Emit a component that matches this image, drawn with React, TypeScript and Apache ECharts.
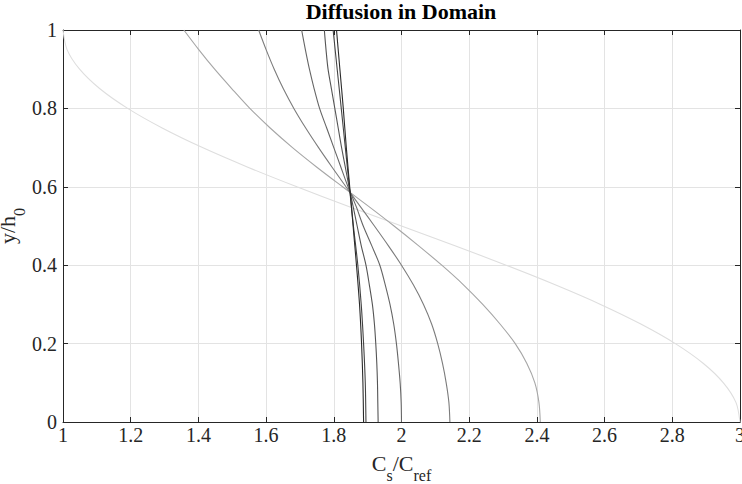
import React, { useEffect, useRef } from 'react';
import * as echarts from 'echarts';

// y/h0 sample positions
const yFine = [0, 0.05, 0.1, 0.15, 0.2, 0.25, 0.3, 0.35, 0.4, 0.45, 0.5, 0.55, 0.6, 0.65, 0.7, 0.75, 0.8, 0.85, 0.9, 0.95, 1];
const yCoarse = [0, 0.1, 0.2, 0.3, 0.4, 0.5, 0.6, 0.7, 0.8, 0.9, 1];

// Cs/Cref profiles, earliest (lightest) to latest (darkest)
const profile1 = [3.0, 2.988, 2.951, 2.891, 2.809, 2.707, 2.588, 2.454, 2.309, 2.156, 2.0, 1.844, 1.691, 1.546, 1.412, 1.293, 1.191, 1.109, 1.049, 1.012, 1.0];
const profile2 = [2.41, 2.406, 2.394, 2.37, 2.336, 2.291, 2.24, 2.183, 2.119, 2.05, 1.978, 1.903, 1.826, 1.75, 1.678, 1.612, 1.552, 1.499, 1.448, 1.401, 1.357];
const profile3 = [2.143, 2.14, 2.132, 2.121, 2.107, 2.089, 2.065, 2.035, 2.0, 1.961, 1.92, 1.878, 1.836, 1.795, 1.755, 1.717, 1.682, 1.651, 1.624, 1.6, 1.578];
const profile4 = [2.0, 1.999, 1.996, 1.991, 1.985, 1.977, 1.966, 1.952, 1.936, 1.912, 1.887, 1.866, 1.842, 1.821, 1.8, 1.779, 1.758, 1.742, 1.728, 1.716, 1.705];
const profile5 = [1.931, 1.93, 1.929, 1.927, 1.924, 1.92, 1.914, 1.905, 1.895, 1.881, 1.869, 1.857, 1.845, 1.834, 1.823, 1.813, 1.803, 1.793, 1.783, 1.777, 1.772];
const profile6 = [1.895, 1.893, 1.888, 1.881, 1.871, 1.858, 1.846, 1.834, 1.822, 1.81, 1.798];
const profile7 = [1.888, 1.886, 1.882, 1.876, 1.867, 1.857, 1.847, 1.837, 1.828, 1.818, 1.808];

const xTickLabels = ['1', '1.2', '1.4', '1.6', '1.8', '2', '2.2', '2.4', '2.6', '2.8', '3'];
const yTickLabels = ['0', '0.2', '0.4', '0.6', '0.8', '1'];

const profiles = [
  { xs: profile1, ys: yFine, color: '#dedede' },
  { xs: profile2, ys: yFine, color: '#a6a6a6' },
  { xs: profile3, ys: yFine, color: '#7c7c7c' },
  { xs: profile4, ys: yFine, color: '#666666' },
  { xs: profile5, ys: yFine, color: '#555555' },
  { xs: profile6, ys: yCoarse, color: '#444444' },
  { xs: profile7, ys: yCoarse, color: '#2a2a2a' },
];

const SERIF = 'Liberation Serif';
const AX = '#262626';

export default function App() {
  const ref = useRef<HTMLDivElement>(null);
  useEffect(() => {
    if (!ref.current) return;
    const chart = echarts.init(ref.current, undefined, { renderer: 'svg' });
    const axisCommon = {
      type: 'value' as const,
      axisLine: { show: true, onZero: false, lineStyle: { color: AX, width: 1 } },
      axisTick: { show: true, inside: true, length: 5, lineStyle: { color: AX } },
    };
    const xLabel = (v: number) => xTickLabels[Math.round((v - 1) / 0.2)] ?? '';
    const yLabel = (v: number) => yTickLabels[Math.round(v / 0.2)] ?? '';
    const rich = {
      a: { fontFamily: SERIF, fontSize: 22, color: AX, lineHeight: 22, verticalAlign: 'top' },
      b: { fontFamily: SERIF, fontSize: 16, color: AX, lineHeight: 16, verticalAlign: 'top', padding: [15, 0, 0, 0] },
    };
    const option = {
      animation: false,
      textStyle: { fontFamily: SERIF },
      title: {
        text: 'Diffusion in Domain',
        left: 401,
        top: 0,
        padding: 0,
        textAlign: 'center',
        textStyle: { fontFamily: SERIF, fontSize: 22, fontWeight: 'bold', color: '#000' },
      },
      grid: { left: 63, right: 2, top: 30, bottom: 62, containLabel: false, outerBoundsMode: 'none' },
      xAxis: [
        {
          ...axisCommon,
          min: 1, max: 3, interval: 0.2, position: 'bottom',
          axisLabel: { formatter: xLabel, fontFamily: SERIF, fontSize: 20, color: AX, margin: 3 },
          splitLine: { show: true, lineStyle: { color: '#e3e3e3', width: 1 } },
          name: '{a|C}{b|s}{a|/C}{b|ref}',
          nameLocation: 'middle',
          nameGap: 30,
          nameMoveOverlap: false,
          nameTextStyle: { fontFamily: SERIF, fontSize: 22, color: AX, rich },
        },
        {
          ...axisCommon,
          min: 1, max: 3, interval: 0.2, position: 'top',
          axisLabel: { show: false },
          splitLine: { show: false },
        },
      ],
      yAxis: [
        {
          ...axisCommon,
          min: 0, max: 1, interval: 0.2, position: 'left',
          axisLabel: { formatter: yLabel, fontFamily: SERIF, fontSize: 20, color: AX, margin: 6 },
          splitLine: { show: true, lineStyle: { color: '#e3e3e3', width: 1 } },
          name: '{a|y/h}{b|0}',
          nameLocation: 'middle',
          nameGap: 45,
          nameMoveOverlap: false,
          nameTextStyle: { fontFamily: SERIF, fontSize: 22, color: AX, rich },
        },
        {
          ...axisCommon,
          min: 0, max: 1, interval: 0.2, position: 'right',
          axisLabel: { show: false },
          splitLine: { show: false },
        },
      ],
      series: profiles.map((p, i) => ({
        type: 'line',
        name: 'profile' + (i + 1),
        xAxisIndex: 0,
        yAxisIndex: 0,
        data: p.xs.map((x, k) => [x, p.ys[k]]),
        showSymbol: false,
        smooth: 0.3,
        lineStyle: { color: p.color, width: 1.1 },
        itemStyle: { color: p.color },
        z: 2 + i,
      })),
    };
    chart.setOption(option as any);
    return () => chart.dispose();
  }, []);
  return <div ref={ref} style={{ position: 'absolute', left: 0, top: 0, width: 742, height: 484, background: '#fff' }} />;
}
